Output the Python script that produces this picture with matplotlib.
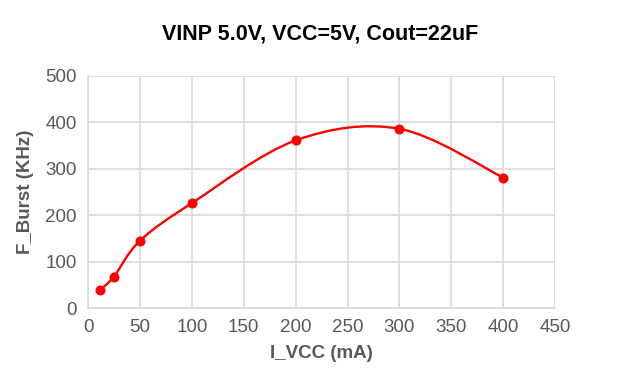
import numpy as np
import matplotlib
matplotlib.use("Agg")
import matplotlib.pyplot as plt
from matplotlib.path import Path
from matplotlib.patches import PathPatch

plt.rcParams['font.family'] = ['Liberation Sans', 'DejaVu Sans']

# --- data
i_vcc = [12, 25, 50, 100, 200, 300, 400]
f_burst = [40, 68, 145, 226, 361, 386, 281]
xticks = [0, 50, 100, 150, 200, 250, 300, 350, 400, 450]
yticks = [0, 100, 200, 300, 400, 500]

red = "#ff0000"
grid = "#d9d9d9"
txt = "#595959"


def smooth_path(xs, ys):
    """Excel-like smoothed line: cubic bezier segments (catmull-rom control points)."""
    pts = np.column_stack([xs, ys]).astype(float)
    n = len(pts)
    verts = [pts[0]]
    codes = [Path.MOVETO]
    for i in range(n - 1):
        p0 = pts[i - 1] if i > 0 else pts[i]
        p1, p2 = pts[i], pts[i + 1]
        p3 = pts[i + 2] if i + 2 < n else pts[i + 1]
        c1 = p1 + (p2 - p0) / 6.0
        c2 = p2 - (p3 - p1) / 6.0
        verts += [c1, c2, p2]
        codes += [Path.CURVE4] * 3
    return Path(verts, codes)


fig = plt.figure(figsize=(6.4, 3.91), dpi=100)
ax = fig.add_axes([0.1375, 0.212, 0.73, 0.594])

ax.add_patch(PathPatch(smooth_path(i_vcc, f_burst), fill=False, edgecolor=red,
                       lw=1.7, capstyle='round', zorder=3))
ax.plot(i_vcc, f_burst, 'o', color=red, ms=6.2, zorder=4)

ax.set_xlim(0, 450)
ax.set_ylim(0, 500)
ax.set_xticks(xticks)
ax.set_yticks(yticks)
ax.grid(True, color=grid, lw=1.2)
ax.set_axisbelow(True)
for s in ax.spines.values():
    s.set_visible(False)
for side in ['bottom', 'left']:
    ax.spines[side].set_visible(True)
    ax.spines[side].set_color(grid)
    ax.spines[side].set_linewidth(1.2)
ax.tick_params(length=0, labelsize=13.5, labelcolor=txt, pad=8)

ax.set_xlabel("I_VCC (mA)", fontsize=13.5, fontweight='bold', color=txt, labelpad=6)
ax.set_ylabel("F_Burst (KHz)", fontsize=13.5, fontweight='bold', color=txt, labelpad=8)
fig.suptitle("VINP 5.0V, VCC=5V, Cout=22uF", fontsize=15.5, fontweight='bold',
             y=0.94, x=0.5)

fig.savefig("out.png", dpi=100)
